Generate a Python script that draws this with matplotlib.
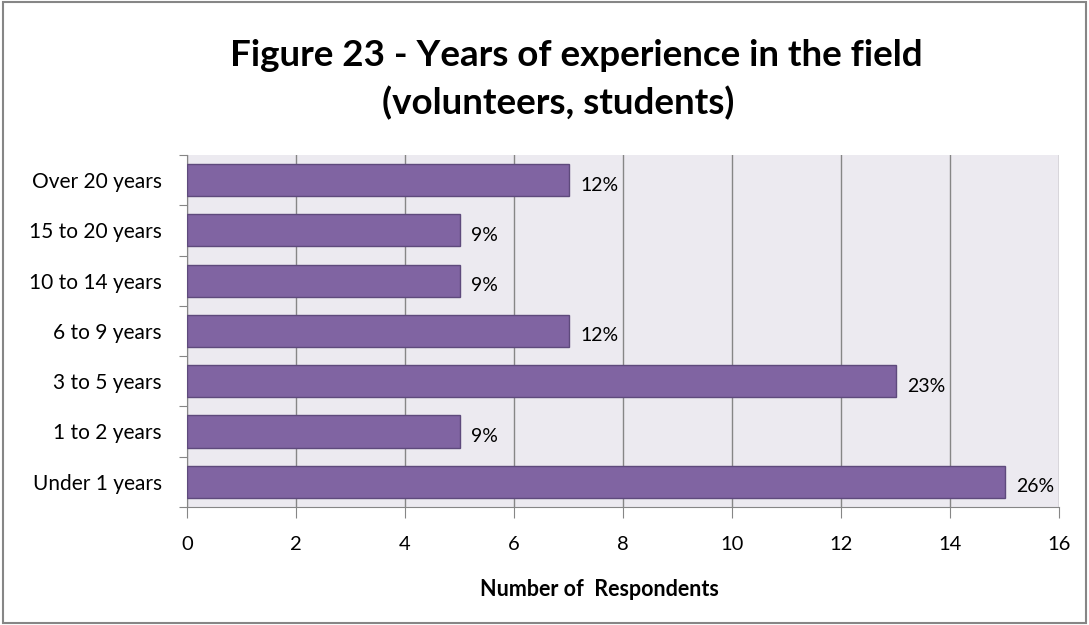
import matplotlib.pyplot as plt
from matplotlib.patches import Rectangle

plt.rcParams['font.family'] = ['Lato', 'DejaVu Sans']

categories = ['Under 1 years', '1 to 2 years', '3 to 5 years', '6 to 9 years',
              '10 to 14 years', '15 to 20 years', 'Over 20 years']
counts = [15, 5, 13, 7, 5, 5, 7]
percents = ['26%', '9%', '23%', '12%', '9%', '9%', '12%']

fig = plt.figure(figsize=(10.89, 6.25), dpi=100)
ax = fig.add_axes([0.1717, 0.189, 0.8008, 0.563])
ax.set_facecolor('#ECEAF0')

ypos = range(len(categories))
ax.barh(ypos, counts, height=0.64, color='#8064A2', edgecolor='#5E4A7C',
        linewidth=1, zorder=3)
for y, c, p in zip(ypos, counts, percents):
    ax.text(c + 0.22, y - 0.1, p, va='center', ha='left', fontsize=14, zorder=4)

ax.set_xlim(0, 16)
ax.set_ylim(-0.5, len(categories) - 0.5)
ax.set_xticks(range(0, 17, 2))
ax.set_yticks([i - 0.5 for i in range(len(categories) + 1)], minor=False)
ax.set_yticklabels([])
ax.set_yticks(list(ypos), minor=True)
ax.set_yticklabels(categories, minor=True, fontsize=15)
ax.tick_params(axis='y', which='minor', length=0, pad=18)
ax.tick_params(axis='y', which='major', length=6, color='#868686', direction='out')
ax.tick_params(axis='x', length=8, color='#868686', direction='out', labelsize=14.5, pad=13)
ax.grid(axis='x', color='#868686', linewidth=1, zorder=0)
for s in ['top', 'right']:
    ax.spines[s].set_visible(False)
for s in ['left', 'bottom']:
    ax.spines[s].set_color('#868686')

fig.text(0.55, 0.056, 'Number of  Respondents', ha='center', va='center',
         fontsize=15.5, fontweight='bold')

fig.text(0.529, 0.912, 'Figure 23 - Years of experience in the field', ha='center',
         va='center', fontsize=26.5, fontweight='bold')
fig.text(0.513, 0.835, '(volunteers, students)', ha='center', va='center',
         fontsize=26.5, fontweight='bold')

fig.patches.append(Rectangle((0.003, 0.003), 0.994, 0.994, transform=fig.transFigure,
                             fill=False, edgecolor='#868686', linewidth=1.5))

fig.savefig('out.png', dpi=100)
